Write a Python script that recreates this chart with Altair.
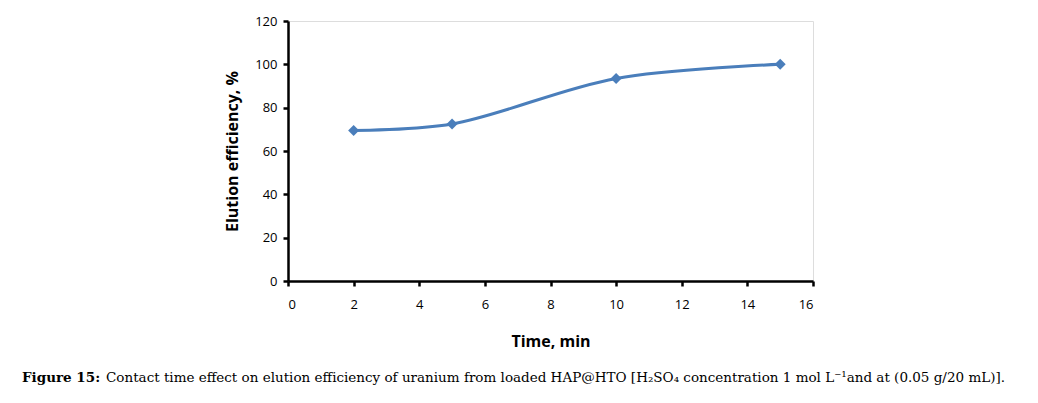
import altair as alt
import pandas as pd

time_min = [2, 5, 10, 15]
elution = [69.5, 72.5, 93.5, 100]
x_ticks = [0, 2, 4, 6, 8, 10, 12, 14, 16]
y_ticks = [0, 20, 40, 60, 80, 100, 120]

df = pd.DataFrame({"t": time_min, "e": elution})

W, H = 525, 260
AX_FONT = "Open Sans"
BLUE = "#4A7EBB"
CAP_FONT = "DejaVu Serif"

x = alt.X("t:Q", scale=alt.Scale(domain=[0, 16], nice=False),
          axis=alt.Axis(values=x_ticks, title="Time, min", grid=False,
                        domainColor="black", domainWidth=2.5, tickColor="black",
                        tickWidth=2.5, tickSize=5, labelFont=AX_FONT, labelFontSize=13,
                        labelColor="black", labelPadding=12, titleFont=AX_FONT,
                        titleFontSize=16, titleFontWeight="bold", titleColor="black",
                        titlePadding=22))
y = alt.Y("e:Q", scale=alt.Scale(domain=[0, 120], nice=False),
          axis=alt.Axis(values=y_ticks, title="Elution efficiency, %", grid=False,
                        domainColor="black", domainWidth=2.5, tickColor="black",
                        tickWidth=2.5, tickSize=5, labelFont=AX_FONT, labelFontSize=13,
                        labelColor="black", labelPadding=6, titleFont=AX_FONT,
                        titleFontSize=16, titleFontWeight="bold", titleColor="black",
                        titlePadding=14))

line = alt.Chart(df).mark_line(color=BLUE, strokeWidth=3, interpolate="catmull-rom").encode(x=x, y=y)
pts = alt.Chart(df).mark_point(shape="diamond", filled=True, color=BLUE, size=120, opacity=1).encode(x=x, y=y)

cap_df = pd.DataFrame({"a": [0]})
cap1 = alt.Chart(cap_df).mark_text(text="Figure 15:", font=CAP_FONT, fontSize=13.5,
                                   fontWeight="bold", align="left", baseline="alphabetic",
                                   color="black").encode(x=alt.value(-266), y=alt.value(361))
cap2 = alt.Chart(cap_df).mark_text(
    text="Contact time effect on elution efficiency of uranium from loaded HAP@HTO [H₂SO₄ concentration 1 mol L⁻¹and at (0.05 g/20 mL)].",
    font=CAP_FONT, fontSize=13.5, align="left", baseline="alphabetic",
    color="black").encode(x=alt.value(-182), y=alt.value(361))

chart = alt.layer(line, pts, cap1, cap2).properties(
    width=W, height=H,
    autosize=alt.AutoSizeParams(type="none"),
    padding={"left": 280, "top": 13, "right": 217, "bottom": 115},
).configure_view(stroke=None).configure(background="white")

chart.save("out.html", embed_options={"renderer": "svg", "actions": False})
